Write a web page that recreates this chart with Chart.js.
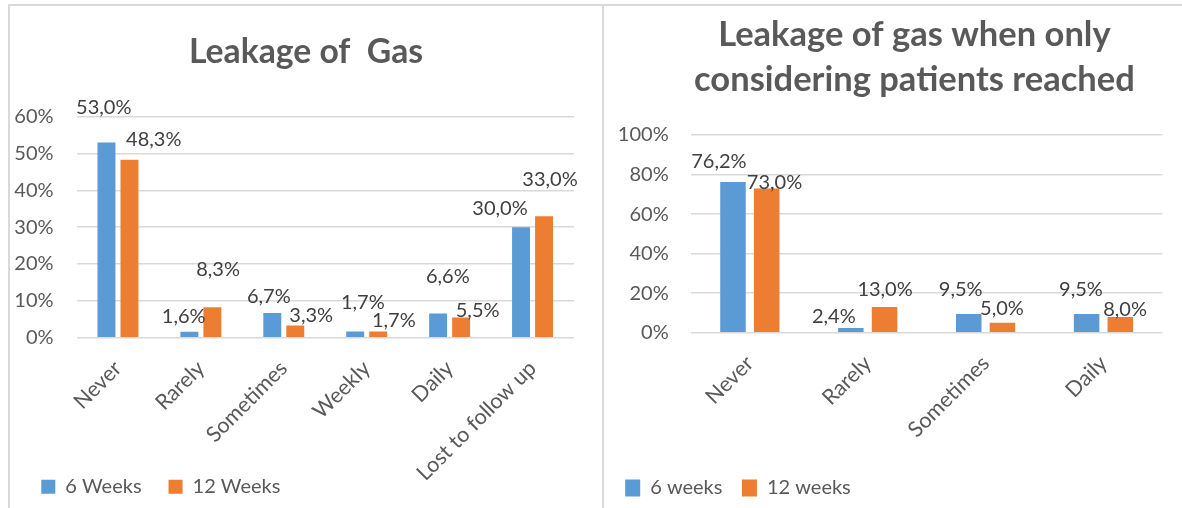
<!DOCTYPE html>
<html><head><meta charset="utf-8">
<script src="https://cdn.jsdelivr.net/npm/chart.js@4.4.1/dist/chart.umd.min.js"></script>
<style>
html,body{margin:0;padding:0;background:#fff;width:1182px;height:508px;overflow:hidden;}
.line{position:absolute;background:#d9d9d9;}
canvas{position:absolute;}
</style></head><body>
<div class="line" style="left:8px;top:4px;width:1174px;height:2px"></div>
<div class="line" style="left:8px;top:4px;width:2px;height:504px"></div>
<div class="line" style="left:602px;top:4px;width:2px;height:504px"></div>
<canvas id="c1" width="592" height="502" style="left:10px;top:6px"></canvas>
<canvas id="c2" width="578" height="502" style="left:604px;top:6px"></canvas>
<script>
// ---- data ----
const leftTitle = 'Leakage of  Gas';
const leftCategories = ['Never', 'Rarely', 'Sometimes', 'Weekly', 'Daily', 'Lost to follow up'];
const leftSeriesNames = ['6 Weeks', '12 Weeks'];
const left6Weeks = [53.0, 1.6, 6.7, 1.7, 6.6, 30.0];
const left12Weeks = [48.3, 8.3, 3.3, 1.7, 5.5, 33.0];
const leftYTicks = [0, 10, 20, 30, 40, 50, 60];

const rightTitle = ['Leakage of gas when only', 'considering patients reached'];
const rightCategories = ['Never', 'Rarely', 'Sometimes', 'Daily'];
const rightSeriesNames = ['6 weeks', '12 weeks'];
const right6Weeks = [76.2, 2.4, 9.5, 9.5];
const right12Weeks = [73.0, 13.0, 5.0, 8.0];
const rightYTicks = [0, 20, 40, 60, 80, 100];

// ---- label nudges (dx, dy from bar top centre), as placed in the original ----
const leftLabelNudges = [
  [[-2.7,-35],[-5.7,-15.3],[-3.5,-16.3],[7.6,-28.7],[9.7,-37],[-21,-19]],
  [[24.3,-20],[5.7,-38],[15.9,-10.3],[15.6,-10.7],[16.5,-6.6],[6,-36.5]]
];
const rightLabelNudges = [
  [[-14.1,-20.3],[-17,-11.3],[-8,-24.7],[-5.6,-24.7]],
  [[7.8,-5.7],[0.5,-17.7],[-0.5,-14.5],[4.8,-7.7]]
];

const BLUE = '#5B9BD5', ORANGE = '#ED7D31', TXT = '#595959', GRID = '#D9D9D9';
const FONT = 'Lato';
const FS = 20;
const XFS = 21.5;

function fmt(v){ return v.toFixed(1).replace('.', ',') + '%'; }

const barLabels = {
  id: 'barLabels',
  afterDatasetsDraw(chart, args, opts){
    const ctx = chart.ctx;
    ctx.save();
    ctx.font = FS + 'px ' + FONT;
    ctx.fillStyle = '#404040';
    ctx.textAlign = 'center';
    ctx.textBaseline = 'middle';
    chart.data.datasets.forEach((ds, di) => {
      const meta = chart.getDatasetMeta(di);
      meta.data.forEach((el, i) => {
        const n = opts.nudges[di][i];
        ctx.fillText(fmt(ds.data[i]), el.x + n[0], el.y + n[1]);
      });
    });
    ctx.restore();
  }
};

const layoutTweaks = {
  id: 'layoutTweaks',
  afterLayout(chart, args, opts){
    const tb = chart.titleBlock;
    if (tb) {
      const c = (tb.left + tb.right) / 2;
      const s = opts.centerX - c;
      tb.left += s; tb.right += s;
    }
    // let long rotated category labels run down beside the legend, as in the original
    if (chart.scales.x) chart.scales.x.bottom = chart.height;
  }
};

function build(id, p){
  return new Chart(document.getElementById(id), {
    type: 'bar',
    data: {
      labels: p.categories,
      datasets: [
        { label: p.names[0], data: p.s1, backgroundColor: BLUE, categoryPercentage: p.catPct, barPercentage: p.barPct },
        { label: p.names[1], data: p.s2, backgroundColor: ORANGE, categoryPercentage: p.catPct, barPercentage: p.barPct }
      ]
    },
    plugins: [barLabels, layoutTweaks],
    options: {
      responsive: false,
      animation: false,
      layout: { padding: p.pad },
      plugins: {
        tooltip: { enabled: false },
        title: {
          display: true, text: p.title, color: TXT,
          font: { family: FONT, size: p.titleSize, weight: 'bold', lineHeight: p.titleLH },
          padding: p.titlePad
        },
        layoutTweaks: { centerX: p.titleCenter },
        legend: {
          position: 'bottom', align: 'start',
          labels: { boxWidth: p.boxW, boxHeight: p.boxH, padding: p.legPad, color: TXT, font: { family: FONT, size: FS } }
        },
        barLabels: { nudges: p.nudges }
      },
      scales: {
        x: {
          grid: { display: false },
          border: { display: false },
          ticks: { color: TXT, font: { family: FONT, size: XFS }, minRotation: 45, maxRotation: 45, autoSkip: false, padding: 10 },
          afterFit(s){ s.height = p.xH; }
        },
        y: {
          min: 0, max: p.yTicks[p.yTicks.length - 1],
          grid: { color: GRID, lineWidth: 1.5, drawTicks: false },
          border: { display: false },
          ticks: { color: TXT, font: { family: FONT, size: FS }, padding: p.yPad, callback: v => v + '%' },
          afterBuildTicks(s){ s.ticks = p.yTicks.map(v => ({ value: v })); },
          afterFit(s){ s.width = p.yW; }
        }
      }
    }
  });
}

build('c1', {
  categories: leftCategories, names: leftSeriesNames, s1: left6Weeks, s2: left12Weeks, yTicks: leftYTicks,
  title: leftTitle, titleSize: 33.7, titleLH: 1.2, titlePad: { top: 25.8, bottom: 44.5 }, titleCenter: 296,
  pad: { left: 4.3, right: 28, top: 0, bottom: 1.3 },
  boxW: 14, boxH: 14, legPad: 27, xH: 112, yW: 62.2, yPad: 22.9,
  catPct: 0.555, barPct: 0.78, nudges: leftLabelNudges
});
build('c2', {
  categories: rightCategories, names: rightSeriesNames, s1: right6Weeks, s2: right12Weeks, yTicks: rightYTicks,
  title: rightTitle, titleSize: 34.5, titleLH: 45 / 34.5, titlePad: { top: 6.5, bottom: 32.5 }, titleCenter: 310.4,
  pad: { left: 1.7, right: 19.6, top: 0, bottom: 0 },
  boxW: 15, boxH: 17, legPad: 19.5, xH: 125.8, yW: 85.2, yPad: 22.2,
  catPct: 0.572, barPct: 0.757, nudges: rightLabelNudges
});
</script>
</body></html>
